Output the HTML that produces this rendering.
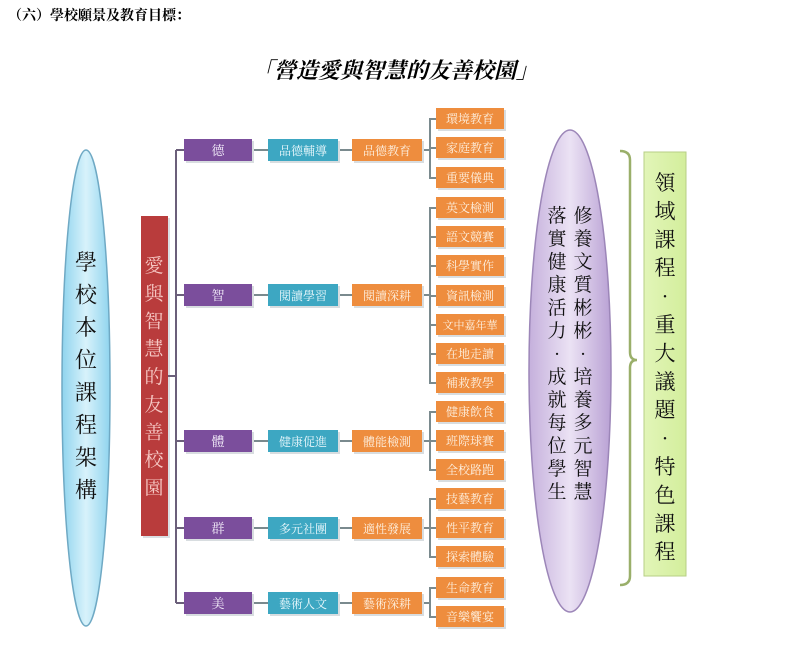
<!DOCTYPE html>
<html><head><meta charset="utf-8"><style>
body{margin:0;background:#fff;}
svg text{font-family:"Liberation Serif","Noto Serif CJK SC","Noto Sans CJK TC",serif;}
</style></head><body>
<svg width="790" height="655" viewBox="0 0 790 655" xmlns="http://www.w3.org/2000/svg">
<defs>
<linearGradient id="blu" x1="0" x2="1"><stop offset="0" stop-color="#8fd4ee"/><stop offset="0.5" stop-color="#d8f2fb"/><stop offset="1" stop-color="#8fd4ee"/></linearGradient>
<linearGradient id="pur" x1="0" x2="1"><stop offset="0" stop-color="#c5b0dc"/><stop offset="0.5" stop-color="#ebe2f4"/><stop offset="1" stop-color="#b9a1d4"/></linearGradient>
<linearGradient id="grn" x1="0" x2="1"><stop offset="0" stop-color="#e2f5b8"/><stop offset="1" stop-color="#d3ee9c"/></linearGradient>
</defs>
<text x="8" y="20" font-size="14" font-weight="bold" fill="#000">（六）學校願景及教育目標：</text>
<text x="395" y="78" font-size="22" font-weight="bold" font-style="italic" text-anchor="middle" fill="#000">「營造愛與智慧的友善校園」</text>

<ellipse cx="86" cy="388" rx="24" ry="238" fill="url(#blu)" stroke="#6fa9c4" stroke-width="1.5"/>
<g font-size="22" fill="#111" text-anchor="middle">
<text x="86" y="270">學</text><text x="86" y="302.5">校</text><text x="86" y="335">本</text><text x="86" y="367.5">位</text><text x="86" y="400">課</text><text x="86" y="432.5">程</text><text x="86" y="465">架</text><text x="86" y="497.5">構</text>
</g>

<rect x="143" y="218" width="27" height="320" fill="#b5c0c8" opacity="0.5"/>
<rect x="141" y="216" width="27" height="320" fill="#b93c3c"/>
<g font-size="19" fill="#f6c8c4" text-anchor="middle">
<text x="154" y="272">愛</text><text x="154" y="300">與</text><text x="154" y="327.5">智</text><text x="154" y="355">慧</text><text x="154" y="383">的</text><text x="154" y="411">友</text><text x="154" y="438.5">善</text><text x="154" y="466">校</text><text x="154" y="494">園</text>
</g>

<g stroke="#6b5f7a" stroke-width="2" fill="none">
<line x1="168" y1="376" x2="176" y2="376"/>
<line x1="176" y1="150" x2="176" y2="603"/>
<line x1="176" y1="150" x2="184" y2="150"/>
<line x1="176" y1="295" x2="184" y2="295"/>
<line x1="176" y1="441" x2="184" y2="441"/>
<line x1="176" y1="528" x2="184" y2="528"/>
<line x1="176" y1="603" x2="184" y2="603"/>
</g>
<g stroke="#7a8a8e" stroke-width="2" fill="none">
<line x1="252" y1="150" x2="268" y2="150"/><line x1="338" y1="150" x2="352" y2="150"/><line x1="422" y1="150" x2="430" y2="150"/>
<line x1="252" y1="295" x2="268" y2="295"/><line x1="338" y1="295" x2="352" y2="295"/><line x1="422" y1="295" x2="430" y2="295"/>
<line x1="252" y1="441" x2="268" y2="441"/><line x1="338" y1="441" x2="352" y2="441"/><line x1="422" y1="441" x2="430" y2="441"/>
<line x1="252" y1="528" x2="268" y2="528"/><line x1="338" y1="528" x2="352" y2="528"/><line x1="422" y1="528" x2="430" y2="528"/>
<line x1="252" y1="603" x2="268" y2="603"/><line x1="338" y1="603" x2="352" y2="603"/><line x1="422" y1="603" x2="430" y2="603"/>
<path d="M436 119 H430 V178 H436 M436 148 H430"/>
<path d="M436 208 H430 V383 H436 M436 237 H430 M436 266 H430 M436 296 H430 M436 325 H430 M436 354 H430"/>
<path d="M436 412 H430 V470 H436 M436 441 H430"/>
<path d="M436 499 H430 V557 H436 M436 528 H430"/>
<path d="M436 588 H430 V617 H436"/>
</g>

<g>
<g fill="#d8dde0">
<rect x="186" y="141" width="68" height="22"/><rect x="270" y="141" width="70" height="22"/><rect x="354" y="141" width="70" height="22"/>
<rect x="186" y="286" width="68" height="22"/><rect x="270" y="286" width="70" height="22"/><rect x="354" y="286" width="70" height="22"/>
<rect x="186" y="432" width="68" height="22"/><rect x="270" y="432" width="70" height="22"/><rect x="354" y="432" width="70" height="22"/>
<rect x="186" y="519" width="68" height="22"/><rect x="270" y="519" width="70" height="22"/><rect x="354" y="519" width="70" height="22"/>
<rect x="186" y="594" width="68" height="22"/><rect x="270" y="594" width="70" height="22"/><rect x="354" y="594" width="70" height="22"/>
</g>
<g fill="#7b4e9c">
<rect x="184" y="139" width="68" height="22"/><rect x="184" y="284" width="68" height="22"/><rect x="184" y="430" width="68" height="22"/><rect x="184" y="517" width="68" height="22"/><rect x="184" y="592" width="68" height="22"/>
</g>
<g fill="#3da7c2">
<rect x="268" y="139" width="70" height="22"/><rect x="268" y="284" width="70" height="22"/><rect x="268" y="430" width="70" height="22"/><rect x="268" y="517" width="70" height="22"/><rect x="268" y="592" width="70" height="22"/>
</g>
<g fill="#ee8d3e">
<rect x="352" y="139" width="70" height="22"/><rect x="352" y="284" width="70" height="22"/><rect x="352" y="430" width="70" height="22"/><rect x="352" y="517" width="70" height="22"/><rect x="352" y="592" width="70" height="22"/>
</g>
<g font-size="13" fill="#f4eefa" text-anchor="middle">
<text x="218" y="155">德</text><text x="218" y="300">智</text><text x="218" y="446">體</text><text x="218" y="533">群</text><text x="218" y="608">美</text>
</g>
<g font-size="12" fill="#eaf8fc" text-anchor="middle">
<text x="303" y="155">品德輔導</text><text x="303" y="300">閱讀學習</text><text x="303" y="446">健康促進</text><text x="303" y="533">多元社團</text><text x="303" y="608">藝術人文</text>
</g>
<g font-size="12" fill="#fdf0e0" text-anchor="middle">
<text x="387" y="155">品德教育</text><text x="387" y="300">閱讀深耕</text><text x="387" y="446">體能檢測</text><text x="387" y="533">適性發展</text><text x="387" y="608">藝術深耕</text>
</g>
</g>

<g font-size="12" text-anchor="middle">
<g fill="#d8dde0">
<rect x="438" y="110" width="68" height="21"/><rect x="438" y="139" width="68" height="21"/><rect x="438" y="169" width="68" height="21"/>
<rect x="438" y="199" width="68" height="21"/><rect x="438" y="228" width="68" height="21"/><rect x="438" y="257" width="68" height="21"/><rect x="438" y="287" width="68" height="21"/><rect x="438" y="316" width="68" height="21"/><rect x="438" y="345" width="68" height="21"/><rect x="438" y="374" width="68" height="21"/>
<rect x="438" y="403" width="68" height="21"/><rect x="438" y="432" width="68" height="21"/><rect x="438" y="461" width="68" height="21"/>
<rect x="438" y="490" width="68" height="21"/><rect x="438" y="519" width="68" height="21"/><rect x="438" y="548" width="68" height="21"/>
<rect x="438" y="579" width="68" height="21"/><rect x="438" y="608" width="68" height="21"/>
</g>
<g fill="#ee8d3e">
<rect x="436" y="108" width="68" height="21"/><rect x="436" y="137" width="68" height="21"/><rect x="436" y="167" width="68" height="21"/>
<rect x="436" y="197" width="68" height="21"/><rect x="436" y="226" width="68" height="21"/><rect x="436" y="255" width="68" height="21"/><rect x="436" y="285" width="68" height="21"/><rect x="436" y="314" width="68" height="21"/><rect x="436" y="343" width="68" height="21"/><rect x="436" y="372" width="68" height="21"/>
<rect x="436" y="401" width="68" height="21"/><rect x="436" y="430" width="68" height="21"/><rect x="436" y="459" width="68" height="21"/>
<rect x="436" y="488" width="68" height="21"/><rect x="436" y="517" width="68" height="21"/><rect x="436" y="546" width="68" height="21"/>
<rect x="436" y="577" width="68" height="21"/><rect x="436" y="606" width="68" height="21"/>
</g>
<g fill="#fdf0e0">
<text x="470" y="123">環境教育</text><text x="470" y="152">家庭教育</text><text x="470" y="182">重要儀典</text>
<text x="470" y="212">英文檢測</text><text x="470" y="241">語文競賽</text><text x="470" y="270">科學實作</text><text x="470" y="300">資訊檢測</text><text x="470" y="329" font-size="11">文中嘉年華</text><text x="470" y="358">在地走讀</text><text x="470" y="387">補救教學</text>
<text x="470" y="416">健康飲食</text><text x="470" y="445">班際球賽</text><text x="470" y="474">全校路跑</text>
<text x="470" y="503">技藝教育</text><text x="470" y="532">性平教育</text><text x="470" y="561">探索體驗</text>
<text x="470" y="592">生命教育</text><text x="470" y="621">音樂饗宴</text>
</g>
</g>

<ellipse cx="570" cy="371" rx="41" ry="241" fill="url(#pur)" stroke="#9c86b8" stroke-width="1.5"/>
<g font-size="19" fill="#111" text-anchor="middle">
<text x="583" y="222">修</text><text x="583" y="245">養</text><text x="583" y="268">文</text><text x="583" y="291">質</text><text x="583" y="314">彬</text><text x="583" y="337">彬</text><text x="583" y="360">·</text><text x="583" y="383">培</text><text x="583" y="406">養</text><text x="583" y="429">多</text><text x="583" y="452">元</text><text x="583" y="475">智</text><text x="583" y="498">慧</text>
<text x="557" y="222">落</text><text x="557" y="245">實</text><text x="557" y="268">健</text><text x="557" y="291">康</text><text x="557" y="314">活</text><text x="557" y="337">力</text><text x="557" y="360">·</text><text x="557" y="383">成</text><text x="557" y="406">就</text><text x="557" y="429">每</text><text x="557" y="452">位</text><text x="557" y="475">學</text><text x="557" y="498">生</text>
</g>

<path d="M620 151 Q630 151 630 160 V352 Q630 360 637 360 Q630 360 630 368 V576 Q630 585 620 585" fill="none" stroke="#9aaf6a" stroke-width="2.5"/>
<rect x="644" y="152" width="42" height="424" fill="url(#grn)" stroke="#b7cf86" stroke-width="1"/>
<g font-size="21" fill="#111" text-anchor="middle">
<text x="665" y="190">領</text><text x="665" y="218.4">域</text><text x="665" y="246.8">課</text><text x="665" y="275.2">程</text><text x="665" y="303.6">·</text><text x="665" y="332">重</text><text x="665" y="360.4">大</text><text x="665" y="388.8">議</text><text x="665" y="417.2">題</text><text x="665" y="445.6">·</text><text x="665" y="474">特</text><text x="665" y="502.4">色</text><text x="665" y="530.8">課</text><text x="665" y="559.2">程</text>
</g>
</svg>
</body></html>
